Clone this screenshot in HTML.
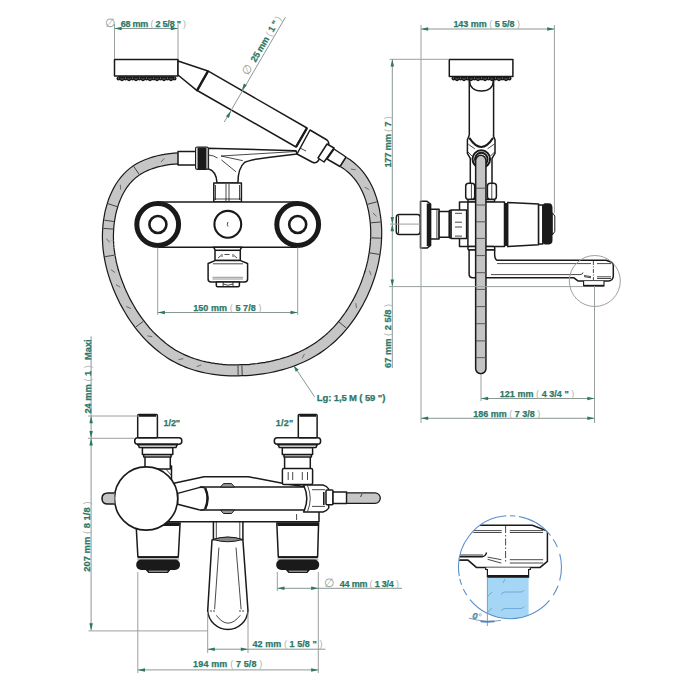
<!DOCTYPE html>
<html><head><meta charset="utf-8">
<style>
html,body{margin:0;padding:0;background:#fff;width:700px;height:700px;overflow:hidden}
svg{display:block}
text{font-family:"Liberation Sans",sans-serif;font-weight:bold;fill:#2b7866;font-size:9px;stroke:#2b7866;stroke-width:0.25}
.p{fill:#a5b2ae;font-weight:normal;stroke:none}
.k{fill:none;stroke:#1a1a1a;stroke-width:1.5;stroke-linejoin:round}
.kw{fill:#fff;stroke:#1a1a1a;stroke-width:1.5;stroke-linejoin:round}
.kt{fill:none;stroke:#1a1a1a;stroke-width:0.8}
.ext{fill:none;stroke:#9aa09e;stroke-width:1}
.dim{fill:none;stroke:#8c9794;stroke-width:1}
.ar{fill:#2b7866}
.hb{fill:none;stroke:#1a1a1a;stroke-width:12.2}
.hg{fill:none;stroke:#c6c6c6;stroke-width:9.8}
</style></head><body>
<svg width="700" height="700" viewBox="0 0 700 700">
<!-- ===== TOP FRONT VIEW ===== -->
<!-- hose -->
<path class="hb" d="M178.1,158.3 L174.4,158.6 L170.5,159.0 L166.6,159.5 L162.7,160.2 L158.7,161.1 L154.7,162.1 L150.8,163.4 L147.0,164.8 L143.3,166.4 L139.7,168.3 L136.4,170.4 L133.2,172.7 L130.3,175.2 L127.6,177.9 L125.0,180.8 L122.7,183.9 L120.5,187.2 L118.6,190.5 L116.8,194.0 L115.2,197.7 L113.7,201.4 L112.5,205.2 L111.4,209.0 L110.4,212.9 L109.7,216.9 L109.0,220.8 L108.5,224.8 L108.2,228.8 L108.0,232.7 L107.9,236.6 L108.0,240.5 L108.2,244.4 L108.5,248.3 L109.0,252.1 L109.6,256.0 L110.3,259.8 L111.1,263.6 L112.0,267.3 L113.0,271.1 L114.1,274.8 L115.3,278.5 L116.7,282.2 L118.1,285.9 L119.6,289.6 L121.2,293.3 L122.9,296.9 L124.6,300.5 L126.5,304.0 L128.5,307.5 L130.5,311.0 L132.6,314.4 L134.8,317.7 L137.1,321.0 L139.5,324.2 L142.0,327.3 L144.5,330.4 L147.1,333.4 L149.8,336.3 L152.6,339.0 L155.5,341.7 L158.4,344.3 L161.4,346.8 L164.5,349.2 L167.6,351.4 L170.8,353.6 L174.1,355.6 L177.5,357.4 L180.9,359.2 L184.4,360.7 L188.0,362.2 L191.6,363.5 L195.3,364.7 L199.0,365.8 L202.8,366.8 L206.6,367.6 L210.4,368.3 L214.3,368.9 L218.2,369.4 L222.1,369.8 L226.1,370.1 L230.1,370.3 L234.0,370.3 L238.0,370.3 L242.0,370.2 L246.0,370.1 L250.0,369.8 L254.0,369.4 L258.0,369.0 L261.9,368.4 L265.9,367.8 L269.8,367.1 L273.7,366.2 L277.5,365.3 L281.4,364.3 L285.1,363.2 L288.9,362.0 L292.6,360.7 L296.2,359.2 L299.8,357.7 L303.4,356.1 L306.8,354.3 L310.3,352.5 L313.6,350.5 L316.9,348.5 L320.1,346.3 L323.2,344.0 L326.2,341.6 L329.2,339.1 L332.1,336.5 L334.8,333.8 L337.6,331.0 L340.2,328.1 L342.7,325.1 L345.2,322.0 L347.5,318.9 L349.8,315.7 L352.0,312.4 L354.1,309.0 L356.1,305.6 L358.1,302.2 L359.9,298.6 L361.7,295.1 L363.3,291.5 L364.9,287.8 L366.4,284.1 L367.7,280.4 L369.0,276.7 L370.2,272.9 L371.3,269.1 L372.3,265.2 L373.2,261.4 L373.9,257.5 L374.6,253.6 L375.1,249.8 L375.6,245.9 L375.9,241.9 L376.1,238.0 L376.2,234.1 L376.2,230.2 L376.0,226.3 L375.7,222.4 L375.3,218.5 L374.7,214.6 L374.1,210.7 L373.2,206.9 L372.3,203.1 L371.2,199.3 L369.9,195.6 L368.5,191.9 L366.9,188.4 L365.1,184.9 L363.1,181.5 L361.0,178.3 L358.6,175.2 L356.0,172.2 L353.2,169.4 L350.2,166.8 L347.0,164.3 L343.5,162.1"/>
<path class="hg" d="M178.1,158.3 L174.4,158.6 L170.5,159.0 L166.6,159.5 L162.7,160.2 L158.7,161.1 L154.7,162.1 L150.8,163.4 L147.0,164.8 L143.3,166.4 L139.7,168.3 L136.4,170.4 L133.2,172.7 L130.3,175.2 L127.6,177.9 L125.0,180.8 L122.7,183.9 L120.5,187.2 L118.6,190.5 L116.8,194.0 L115.2,197.7 L113.7,201.4 L112.5,205.2 L111.4,209.0 L110.4,212.9 L109.7,216.9 L109.0,220.8 L108.5,224.8 L108.2,228.8 L108.0,232.7 L107.9,236.6 L108.0,240.5 L108.2,244.4 L108.5,248.3 L109.0,252.1 L109.6,256.0 L110.3,259.8 L111.1,263.6 L112.0,267.3 L113.0,271.1 L114.1,274.8 L115.3,278.5 L116.7,282.2 L118.1,285.9 L119.6,289.6 L121.2,293.3 L122.9,296.9 L124.6,300.5 L126.5,304.0 L128.5,307.5 L130.5,311.0 L132.6,314.4 L134.8,317.7 L137.1,321.0 L139.5,324.2 L142.0,327.3 L144.5,330.4 L147.1,333.4 L149.8,336.3 L152.6,339.0 L155.5,341.7 L158.4,344.3 L161.4,346.8 L164.5,349.2 L167.6,351.4 L170.8,353.6 L174.1,355.6 L177.5,357.4 L180.9,359.2 L184.4,360.7 L188.0,362.2 L191.6,363.5 L195.3,364.7 L199.0,365.8 L202.8,366.8 L206.6,367.6 L210.4,368.3 L214.3,368.9 L218.2,369.4 L222.1,369.8 L226.1,370.1 L230.1,370.3 L234.0,370.3 L238.0,370.3 L242.0,370.2 L246.0,370.1 L250.0,369.8 L254.0,369.4 L258.0,369.0 L261.9,368.4 L265.9,367.8 L269.8,367.1 L273.7,366.2 L277.5,365.3 L281.4,364.3 L285.1,363.2 L288.9,362.0 L292.6,360.7 L296.2,359.2 L299.8,357.7 L303.4,356.1 L306.8,354.3 L310.3,352.5 L313.6,350.5 L316.9,348.5 L320.1,346.3 L323.2,344.0 L326.2,341.6 L329.2,339.1 L332.1,336.5 L334.8,333.8 L337.6,331.0 L340.2,328.1 L342.7,325.1 L345.2,322.0 L347.5,318.9 L349.8,315.7 L352.0,312.4 L354.1,309.0 L356.1,305.6 L358.1,302.2 L359.9,298.6 L361.7,295.1 L363.3,291.5 L364.9,287.8 L366.4,284.1 L367.7,280.4 L369.0,276.7 L370.2,272.9 L371.3,269.1 L372.3,265.2 L373.2,261.4 L373.9,257.5 L374.6,253.6 L375.1,249.8 L375.6,245.9 L375.9,241.9 L376.1,238.0 L376.2,234.1 L376.2,230.2 L376.0,226.3 L375.7,222.4 L375.3,218.5 L374.7,214.6 L374.1,210.7 L373.2,206.9 L372.3,203.1 L371.2,199.3 L369.9,195.6 L368.5,191.9 L366.9,188.4 L365.1,184.9 L363.1,181.5 L361.0,178.3 L358.6,175.2 L356.0,172.2 L353.2,169.4 L350.2,166.8 L347.0,164.3 L343.5,162.1"/>

<path d="M104.8,256.7 L114.3,255.2 M135.7,327.1 L143.3,321.3 M238.1,375.1 L238.0,365.5 M242.2,375.0 L241.9,365.4 M346.4,328.1 L339.0,322.0 M379.3,254.4 L369.9,252.9 M376.9,201.8 L367.6,204.3 M380.5,222.0 L370.9,222.8 M380.9,238.2 L371.3,237.9 M133.7,166.4 L139.1,174.3 M107.9,203.7 L117.1,206.6 M104.3,220.2 L113.8,221.5 M103.4,228.4 L113.0,229.1" stroke="#333" stroke-width="0.9"/>
<path d="M111.0,269.6 L115.0,272.6 M115.9,284.6 L120.2,287.2 M126.2,306.5 L130.8,308.5 M147.4,335.9 L152.3,336.6 M178.5,359.6 L183.4,358.7 M196.7,366.7 L201.3,364.9 M302.2,358.3 L304.5,353.9 M356.5,308.1 L355.8,303.1 M371.1,275.2 L369.4,270.5 M355.7,169.7 L350.8,169.1 M369.1,189.5 L364.6,187.2 M376.5,216.3 L372.9,212.9 M164.3,158.4 L161.0,162.1 M120.3,184.7 L120.7,189.7 M106.4,238.6 L109.6,242.5" stroke="#555" stroke-width="0.8"/>
<!-- shower head -->
<rect class="kw" x="114.5" y="59.5" width="63.5" height="16.5"/>
<path d="M118.5,76.3 H174.5 V78.1 H118.5 Z" fill="#1a1a1a"/><circle cx="118.5" cy="78.4" r="2.0" fill="#1a1a1a"/><circle cx="122.0" cy="79.2" r="2.0" fill="#1a1a1a"/><circle cx="125.5" cy="78.4" r="2.0" fill="#1a1a1a"/><circle cx="129.0" cy="79.2" r="2.0" fill="#1a1a1a"/><circle cx="132.5" cy="78.4" r="2.0" fill="#1a1a1a"/><circle cx="136.0" cy="79.2" r="2.0" fill="#1a1a1a"/><circle cx="139.5" cy="78.4" r="2.0" fill="#1a1a1a"/><circle cx="143.0" cy="79.2" r="2.0" fill="#1a1a1a"/><circle cx="146.5" cy="78.4" r="2.0" fill="#1a1a1a"/><circle cx="150.0" cy="79.2" r="2.0" fill="#1a1a1a"/><circle cx="153.5" cy="78.4" r="2.0" fill="#1a1a1a"/><circle cx="157.0" cy="79.2" r="2.0" fill="#1a1a1a"/><circle cx="160.5" cy="78.4" r="2.0" fill="#1a1a1a"/><circle cx="164.0" cy="79.2" r="2.0" fill="#1a1a1a"/><circle cx="167.5" cy="78.4" r="2.0" fill="#1a1a1a"/><circle cx="171.0" cy="79.2" r="2.0" fill="#1a1a1a"/><circle cx="174.5" cy="78.4" r="2.0" fill="#1a1a1a"/><circle cx="118.5" cy="78.1" r="0.55" fill="#999"/><circle cx="122.0" cy="78.9" r="0.55" fill="#999"/><circle cx="125.5" cy="78.1" r="0.55" fill="#999"/><circle cx="129.0" cy="78.9" r="0.55" fill="#999"/><circle cx="132.5" cy="78.1" r="0.55" fill="#999"/><circle cx="136.0" cy="78.9" r="0.55" fill="#999"/><circle cx="139.5" cy="78.1" r="0.55" fill="#999"/><circle cx="143.0" cy="78.9" r="0.55" fill="#999"/><circle cx="146.5" cy="78.1" r="0.55" fill="#999"/><circle cx="150.0" cy="78.9" r="0.55" fill="#999"/><circle cx="153.5" cy="78.1" r="0.55" fill="#999"/><circle cx="157.0" cy="78.9" r="0.55" fill="#999"/><circle cx="160.5" cy="78.1" r="0.55" fill="#999"/><circle cx="164.0" cy="78.9" r="0.55" fill="#999"/><circle cx="167.5" cy="78.1" r="0.55" fill="#999"/><circle cx="171.0" cy="78.9" r="0.55" fill="#999"/><circle cx="174.5" cy="78.1" r="0.55" fill="#999"/>
<!-- handle cone -->
<path class="kw" d="M178,61 L208,71 L197,90.7 L178,75 Z"/>
<!-- handle tube -->
<path class="kw" d="M208.3,71.2 L307,128 L296,147 L197.2,90.5 Z"/>
<path d="M208,71 L197,90.7" stroke="#1a1a1a" stroke-width="2.4"/>
<path d="M307,128 L296,147" stroke="#1a1a1a" stroke-width="2.4"/>
<!-- collar -->
<path class="kw" d="M310,130 L327,140 Q330,143 328,146 L318,161 Q316,164 312,162 L297,154 Z"/>
<path d="M300,148 L306,151" class="kt"/>
<!-- hex nut -->
<path class="kw" d="M327,144 L334,148 L324,162 L318,158 Z"/>
<!-- small tube -->
<path class="kw" d="M334,149 L346,157 L340,166.5 L327,159 Z"/>

<!-- holder -->
<path class="kw" d="M207,148.3 L296,150.7 L297,154 L270,157.2 Q250,159.5 244.5,162.5 Q238,168 237.9,183 L217,183 Q216.5,171 208,168.8 L207,168.8 Z"/>
<path class="kt" d="M209,155.1 Q214,155.5 217.6,158.1" stroke-width="1.2"/>
<path class="kt" d="M221,156 L296,151.5 M221,156 L242.8,160.7"/>
<path class="kt" d="M221.4,159.9 L236,171.8"/>
<path d="M208.6,148.5 V168.5" stroke="#1a1a1a" stroke-width="1"/>
<!-- tube + black ring -->
<rect class="kw" x="178" y="151.5" width="18" height="13.5"/>
<rect x="195.6" y="147" width="12.6" height="22.3" rx="1.5" fill="#fff" stroke="#1a1a1a" stroke-width="1.2"/>
<rect x="197.5" y="147.3" width="9" height="21.7" fill="#1a1a1a"/>
<!-- nut on holder -->
<rect class="kw" x="213.8" y="183" width="27.6" height="19"/>
<path class="kt" d="M226,184 v17 M229,184 v17 M215.5,185 v15 M239.5,185 v15 M214,199 h27"/>

<!-- body bar -->
<path class="kw" d="M157.7,202.1 L297.7,202.1 L297.7,247.3 L157.7,247.3 Z"/>
<!-- knobs -->
<circle cx="157.7" cy="224.5" r="20.9" fill="#fff" stroke="#1a1a1a" stroke-width="5"/>
<circle cx="157.9" cy="224.5" r="8.5" fill="#fff" stroke="#1a1a1a" stroke-width="2.6"/>
<circle cx="297.7" cy="224.5" r="20.9" fill="#fff" stroke="#1a1a1a" stroke-width="5"/>
<circle cx="297.7" cy="224.5" r="8.5" fill="#fff" stroke="#1a1a1a" stroke-width="2.6"/>
<circle cx="227.8" cy="224.3" r="13.4" fill="#fff" stroke="#1a1a1a" stroke-width="2.1"/>
<path d="M228,222 Q226.5,224.4 228,226.5" class="kt"/>
<!-- lower fitting -->
<path class="kw" d="M213.3,247.3 Q215,249 215,250.3 V260.6 H240.3 V250.3 Q240.3,249 242,247.3 Z"/>
<path class="k" d="M215,250.3 H240.3"/>
<path class="kt" d="M218,258 l3,-2.5 M222,257 v-3 M224.5,254.5 h5 M233,257 v-3 M234,255.5 l3,2.5"/>
<path class="kw" d="M215,260.6 H240.5 L247.6,263.5 V279 Q247.6,282 244.6,282 H211.1 Q208.1,282 208.1,279 V263.5 Z"/>
<path class="kt" d="M212.9,263.8 H243"/>
<path d="M212.5,277.3 H243 M212.5,279 H243" stroke="#777" stroke-width="0.8"/>
<path class="kw" d="M216.3,282 H239.4 V285.5 Q239.4,286.7 238,286.7 H217.7 Q216.3,286.7 216.3,285.5 Z"/>
<path class="kt" d="M223.1,282 V286.5 M233,282 V286.5"/>
<path class="kt" d="M223.1,284 Q228,286.5 233,284"/>

<!-- ===== RIGHT SIDE VIEW ===== -->
<!-- shower head -->
<rect class="kw" x="449.3" y="59.5" width="63.6" height="16.9"/>
<path d="M453.5,76.3 H509.5 V78.1 H453.5 Z" fill="#1a1a1a"/><circle cx="453.5" cy="78.4" r="2.0" fill="#1a1a1a"/><circle cx="457.0" cy="79.2" r="2.0" fill="#1a1a1a"/><circle cx="460.5" cy="78.4" r="2.0" fill="#1a1a1a"/><circle cx="464.0" cy="79.2" r="2.0" fill="#1a1a1a"/><circle cx="467.5" cy="78.4" r="2.0" fill="#1a1a1a"/><circle cx="471.0" cy="79.2" r="2.0" fill="#1a1a1a"/><circle cx="474.5" cy="78.4" r="2.0" fill="#1a1a1a"/><circle cx="478.0" cy="79.2" r="2.0" fill="#1a1a1a"/><circle cx="481.5" cy="78.4" r="2.0" fill="#1a1a1a"/><circle cx="485.0" cy="79.2" r="2.0" fill="#1a1a1a"/><circle cx="488.5" cy="78.4" r="2.0" fill="#1a1a1a"/><circle cx="492.0" cy="79.2" r="2.0" fill="#1a1a1a"/><circle cx="495.5" cy="78.4" r="2.0" fill="#1a1a1a"/><circle cx="499.0" cy="79.2" r="2.0" fill="#1a1a1a"/><circle cx="502.5" cy="78.4" r="2.0" fill="#1a1a1a"/><circle cx="506.0" cy="79.2" r="2.0" fill="#1a1a1a"/><circle cx="509.5" cy="78.4" r="2.0" fill="#1a1a1a"/><circle cx="453.5" cy="78.1" r="0.55" fill="#999"/><circle cx="457.0" cy="78.9" r="0.55" fill="#999"/><circle cx="460.5" cy="78.1" r="0.55" fill="#999"/><circle cx="464.0" cy="78.9" r="0.55" fill="#999"/><circle cx="467.5" cy="78.1" r="0.55" fill="#999"/><circle cx="471.0" cy="78.9" r="0.55" fill="#999"/><circle cx="474.5" cy="78.1" r="0.55" fill="#999"/><circle cx="478.0" cy="78.9" r="0.55" fill="#999"/><circle cx="481.5" cy="78.1" r="0.55" fill="#999"/><circle cx="485.0" cy="78.9" r="0.55" fill="#999"/><circle cx="488.5" cy="78.1" r="0.55" fill="#999"/><circle cx="492.0" cy="78.9" r="0.55" fill="#999"/><circle cx="495.5" cy="78.1" r="0.55" fill="#999"/><circle cx="499.0" cy="78.9" r="0.55" fill="#999"/><circle cx="502.5" cy="78.1" r="0.55" fill="#999"/><circle cx="506.0" cy="78.9" r="0.55" fill="#999"/><circle cx="509.5" cy="78.1" r="0.55" fill="#999"/>
<!-- vertical handle -->
<path class="kw" d="M469.3,76.5 V136 M493.6,76.5 V136"/>
<path class="k" d="M469.3,80 Q470,91 481.5,91 Q493,91 493.6,80"/>
<!-- joint -->
<path d="M469.3,135.3 L467.4,139.8 V153.3 L470.3,158.4 V184 H492 V158.4 L495,153.3 V139.8 L493.1,135.3 Z" fill="#fff" stroke="none"/>
<path class="k" d="M469.3,135.3 L467.4,139.8 V153.3 L470.3,158.4 V184 M493.1,135.3 L495,139.8 V153.3 L492,158.4 V184"/>
<path d="M469.3,137.9 Q481.3,156 493.1,137.9" fill="none" stroke="#1a1a1a" stroke-width="2"/>
<path class="kt" d="M468.4,144.3 L474.8,148.8 M494,144.3 L487.6,148.8 M468,152 L472,156 M494.5,152 L490.5,156"/>
<circle cx="481.3" cy="159.1" r="8.8" fill="#fff" stroke="#1a1a1a" stroke-width="2"/>
<circle cx="481.3" cy="159.1" r="6.3" fill="#fff" stroke="#1a1a1a" stroke-width="2"/>
<!-- nut -->
<rect class="kw" x="465.7" y="183.2" width="9" height="16.4" rx="3"/>
<rect class="kw" x="487.4" y="183.2" width="9" height="16.4" rx="3"/>
<path class="kt" d="M471.4,184 v15 M491.8,184 v15"/>
<rect class="kw" x="467.9" y="199.6" width="26.7" height="2.5" rx="1"/>
<!-- body -->
<rect class="kw" x="459.5" y="202.1" width="45" height="44.5"/>
<path class="k" d="M467.9,202.1 V246.6"/>
<!-- inlet connector -->
<rect class="kw" x="396.3" y="214.4" width="24" height="20" rx="3"/>
<path d="M398.6,215.5 V233.5" stroke="#1a1a1a" stroke-width="1"/>
<path class="kw" d="M420.5,201.3 H427 L430.6,204 V245.4 L427,248.1 H420.5 Z"/>
<path d="M428.5,203.5 V246" stroke="#1a1a1a" stroke-width="3.5"/>
<rect class="kw" x="430.6" y="209.3" width="8.5" height="29.7"/>
<path class="kt" d="M436.9,209.5 V238.8"/>
<rect class="kw" x="439.1" y="211.6" width="10.3" height="25.7"/>
<rect class="kw" x="449.4" y="210.5" width="1.8" height="27.3"/>
<rect class="kw" x="451.1" y="209.9" width="15.5" height="28.5"/>
<path class="kt" d="M455,213.3 h7 M455,222.2 h7 M455,227 h7 M455,236.1 h7"/>
<!-- cartridge -->
<path class="kw" d="M507.7,202.4 L538.6,204.1 L538.6,244.8 L507.7,246.6 Z"/>
<path d="M506,203 V246" stroke="#1a1a1a" stroke-width="3"/>
<rect class="kw" x="538.6" y="205" width="4.2" height="39"/>
<path d="M545,203.3 H549 Q552.5,203.3 552.5,208 V240 Q552.5,244.4 549,244.4 H545 Q542.5,244.4 542.5,240 V208 Q542.5,203.3 545,203.3 Z" fill="#1a1a1a"/>
<path d="M552.3,212.7 L554.8,216 V231.5 L552.3,235 Z" fill="#fff" stroke="#1a1a1a" stroke-width="1"/>
<!-- lip + leg + spout -->
<rect class="kw" x="467.9" y="246.6" width="26.9" height="3.4" rx="1.5"/>
<path class="kw" d="M469.1,250 V274 Q469.1,277.8 473,277.8 H574 L578.2,281.1 H608.5 Q610.5,281 612,279.5 Q613.3,278 613.3,276 V265 Q613.3,263 611,262 L606,260.3 H497 Q494,259 494.8,250 Z"/>
<path class="kt" d="M497,263.6 H591 M597,263.6 H611"/>
<path class="kt" d="M491,274.6 H580 Q583,274.5 583,272.5"/>
<path class="kt" d="M584,275.5 L591,276.6 M584,276.6 L591,277.8 M597,276.8 H611 M597,278.5 H611"/>
<path d="M583.6,281.1 V285.9 H604 V281.1" fill="#fff" stroke="#1a1a1a" stroke-width="1.1"/>
<path d="M583.6,285.6 H604" stroke="#1a1a1a" stroke-width="1.6"/>
<path class="kt" d="M593.4,261 V280" stroke-dasharray="4,1.5,1,1.5"/>
<!-- vertical hose -->
<path d="M480.8,160.5 V368.5" stroke="#1a1a1a" stroke-width="11.8" stroke-linecap="round"/>
<path d="M480.8,160.5 V368.5" stroke="#c4c4c4" stroke-width="8.8" stroke-linecap="round"/>
<path d="M476,188.2 h10 M476,205 h10 M476,221.8 h10 M476,238.4 h10 M476,255.6 h10 M476,272.7 h10 M476,289.4 h10 M476,306.6 h10 M476,323.7 h10 M476,340.9 h10 M476,357.7 h10" stroke="#555" stroke-width="1"/>
<!-- detail circle -->
<circle cx="594.8" cy="281" r="25.5" fill="none" stroke="#a0a0a0" stroke-width="1"/>

<!-- ===== BOTTOM FRONT VIEW ===== -->
<!-- body (behind) -->
<path class="kw" d="M170,484.2 L175,483.1 L204.1,476.7 L248.4,476.7 L285,483.8 L301.7,486.3 L319,486.3 L319,521.7 L168,521.7 Z"/>
<!-- inlet fittings -->
<g id="inL">
<path class="kw" d="M148,466 H171.5 V483 H148 Z"/>
<path class="kt" d="M165,468 L171,475"/>
<rect class="kw" x="145" y="455" width="25.3" height="14"/>
<rect class="kw" x="143.7" y="454.6" width="27.4" height="2.4"/>
<rect class="kw" x="142.4" y="447.5" width="30.4" height="7.1"/>
<path class="kw" d="M137.7,443 H177.6 L176,447.5 H139.3 Z"/>
<rect class="kw" x="134.7" y="437.8" width="47.1" height="6.5" rx="3"/>
<path d="M137,444.5 H178" stroke="#1a1a1a" stroke-width="2.2"/>
<rect class="kw" x="137.7" y="414.5" width="19.7" height="23.3" rx="1"/>
<path d="M139,415.5 H156" stroke="#1a1a1a" stroke-width="2.5"/>
</g>
<g id="inR">
<rect class="kw" x="284.6" y="455" width="25.7" height="14"/>
<rect class="kw" x="284" y="454.6" width="27.4" height="2.4"/>
<rect class="kw" x="282.3" y="447.5" width="30.3" height="7.1"/>
<path class="kw" d="M277.7,443 H317.7 L316,447.5 H279.3 Z"/>
<rect class="kw" x="274.3" y="437.8" width="46.3" height="6.5" rx="3"/>
<path d="M277,444.5 H318" stroke="#1a1a1a" stroke-width="2.2"/>
<rect class="kw" x="298.3" y="414.5" width="18.8" height="23.3" rx="1"/>
<path d="M299.5,415.5 H316" stroke="#1a1a1a" stroke-width="2.5"/>
<!-- nut -->
<rect class="kw" x="282.4" y="468.4" width="30.2" height="16" rx="1.5"/>
<path class="kt" d="M288.2,472 v8 M292.7,472 v8 M302.3,472 v8 M307.5,472 v8"/>
</g>
<!-- handle tube -->
<rect x="200" y="487" width="104" height="23.1" fill="#fff"/>
<path class="k" d="M200,487 H304 M200,510.1 H304"/>
<path d="M220.5,487 L223.5,483.6 H231.5 L234.5,487 Z M220.5,510.1 L223.5,513.5 H231.5 L234.5,510.1 Z" fill="#999" stroke="#1a1a1a" stroke-width="1"/>
<!-- handle cone -->
<path class="kw" d="M177.7,493.4 L199,487.6 Q203,486.8 205.5,488.5 Q210,498.5 205.5,508.6 Q203,510.4 199,509.8 L177.7,504.3 Z"/>
<path d="M205.3,488.6 Q209.8,498.5 205.3,508.4" fill="none" stroke="#1a1a1a" stroke-width="2.4"/>
<!-- collar + hex -->
<path class="kw" d="M303.6,485 L323,485 Q327,486 328.7,489 L328.7,508 Q327,511 323,512 L303.6,512 Q310,498.5 303.6,485 Z"/>
<path class="kt" d="M307.5,485.5 Q313,498.5 307.5,511.5 M312,489.7 H325 M312,506.4 H325"/><path d="M323.8,492 V505" stroke="#1a1a1a" stroke-width="1.6"/>
<rect class="kw" x="326" y="489.9" width="7" height="14.9" rx="1"/>
<rect class="kw" x="333" y="492" width="13.6" height="11.4"/>
<path d="M346.6,492.8 H375 A5.3,5.3 0 0 1 375,503.4 H346.6 Z" fill="#c6c6c6" stroke="#1a1a1a" stroke-width="1.3"/>
<path class="kt" d="M362,494 l-1.5,3"/>
<path class="kt" d="M296.6,514 v6"/>
<!-- lower cartridges -->
<path class="kw" d="M136,522.9 L180.1,522.9 L178.3,557 L137.9,557 Z"/>
<path d="M137,524.5 H179.7" stroke="#1a1a1a" stroke-width="3"/>
<path d="M138,557.3 H178.3" stroke="#1a1a1a" stroke-width="2"/>
<rect x="137" y="558.3" width="42.2" height="2" fill="#bbb"/>
<rect x="136.2" y="559.6" width="43.8" height="10.4" rx="5" fill="#1a1a1a"/>
<path class="kw" d="M146.7,570 H169.5 L167.5,572.2 H148.7 Z"/>
<path class="kw" d="M276.8,522.9 L318.6,522.9 L317.6,557 L278.3,557 Z"/>
<path d="M277.5,524.5 H318.3" stroke="#1a1a1a" stroke-width="3"/>
<path d="M278.3,557.3 H317.6" stroke="#1a1a1a" stroke-width="2"/>
<rect x="277.3" y="558.3" width="41" height="2" fill="#bbb"/>
<rect x="276.2" y="559.6" width="43" height="10.4" rx="5" fill="#1a1a1a"/>
<path class="kw" d="M286.8,570 H309 L307,572.2 H288.8 Z"/>
<!-- big knob -->
<circle cx="146.1" cy="498.5" r="31.6" fill="#fff" stroke="#1a1a1a" stroke-width="1.6"/>
<path d="M114.5,492.9 H108 Q102,492.9 102,498.5 Q102,504.1 108,504.1 H114.5" fill="#c4c4c4" stroke="#1a1a1a" stroke-width="1.5"/>
<!-- spout -->
<path class="kw" d="M213.4,521.7 V540 M242.9,521.7 V540"/>
<path class="kt" d="M216.3,521.7 V539 M239.8,521.7 V539"/>
<path class="kw" d="M212,540 Q227.8,535 242.9,540 L248,610.7 A20.2,20.2 0 0 1 207.7,610.7 Z"/>
<path d="M213,539.5 Q227.8,534.5 242.5,539.5 Q227.8,544 213,539.5 Z" fill="#888" stroke="#1a1a1a" stroke-width="1"/>
<path class="kt" d="M218.9,547.6 L214.6,609.3 M236,547.6 L241.1,609.3"/>
<path class="kt" d="M216.3,615.3 Q227.8,631 240.3,615.3"/>
<path class="kt" d="M210,611 h6 M239,611 h6" stroke-dasharray="2,1"/>
<!-- ===== DETAIL ===== -->
<defs><clipPath id="dc"><circle cx="510" cy="567.2" r="51.5"/></clipPath></defs>
<g clip-path="url(#dc)">
<rect x="487.4" y="577" width="41.2" height="50" fill="#a6d6f6"/>
<path d="M501,594.3 Q503,592 505,592 H521 Q523,592 524,590 M501,611 Q503,608.5 505,608.5 H521 Q523,608.5 524,606.5 M488,596 l4,-4 M488,612 l4,-4 M503,583 l2,-4" fill="none" stroke="#6aa6d6" stroke-width="0.9"/>
<path d="M440,555 H483 Q487,555 486,552 M440,556.8 H482 Q484,557.2 482,558 Q474,559.5 469,560.1 H440" fill="none" stroke="#1a1a1a" stroke-width="1.1"/>
<path d="M440,560.1 H467.9 L476.4,567.4 H540.1 L547.4,561.4 V531 L532.4,525.3 H440" fill="#fff" stroke="#1a1a1a" stroke-width="1.5"/>
<path d="M440,556.8 H482 Q486,556 486.5,552.5" fill="none" stroke="#1a1a1a" stroke-width="1.5"/>
<path d="M440,555 H483" fill="none" stroke="#1a1a1a" stroke-width="0.9"/>
</g>
<path d="M473.4,530.6 H501.7 M473.4,532.5 H501.7 M509.8,530.6 H543.1 M509.8,532.5 H543.1" stroke="#1a1a1a" stroke-width="0.8"/>
<path d="M509.8,559.7 H543.1 M509.8,563 H543.1 M487.6,557.1 L501.3,559.7 M487.6,559.3 L501.3,563.1" stroke="#1a1a1a" stroke-width="0.8"/>
<path d="M505.6,526 V562" stroke="#1a1a1a" stroke-width="0.8" stroke-dasharray="7,2,1.5,2"/>
<path d="M485.7,567.4 V569.5 H487.4 V577.1 H528.6 V569.5 H530.3 V567.4" fill="#fff" stroke="#1a1a1a" stroke-width="1.2"/>
<path d="M487.8,576 H528.2" stroke="#1a1a1a" stroke-width="2"/>
<path d="M459.3,576.1 A51.5,51.5 0 0 1 506.4,515.8 M510.0,515.7 A51.5,51.5 0 0 1 515.4,516.0 M518.9,516.5 A51.5,51.5 0 0 1 550.6,535.5 M553.2,539.2 A51.5,51.5 0 0 1 557.4,547.1 M559.7,553.9 A51.5,51.5 0 0 1 559.7,580.5 M558.1,585.7 A51.5,51.5 0 0 1 553.2,595.2 M549.5,600.3 A51.5,51.5 0 0 1 470.0,599.6 M466.8,595.2 A51.5,51.5 0 0 1 463.3,589.0 M461.6,584.8 A51.5,51.5 0 0 1 459.8,578.8 M459.0,574.4 A51.5,51.5 0 0 1 458.6,570.8" fill="none" stroke="#5d90c8" stroke-width="1.1"/>
<path d="M487.4,577 V626" stroke="#6f98c0" stroke-width="0.9"/>
<path d="M469,618.2 Q486,623 501,620.4" fill="none" stroke="#7c8fa0" stroke-width="0.9"/>
<path d="M480.5,621.3 L487,621.8 L494.5,621.3" fill="none" stroke="#4f86c0" stroke-width="1.8"/>
<text x="472.2" y="619" style="font-size:9.6px;font-style:italic;font-weight:bold;fill:#5f8fc6">0</text><circle cx="480.2" cy="614.8" r="1.2" fill="none" stroke="#7aa6d6" stroke-width="0.7"/>

<path class="ext" d="M114.5,24 V59 M178,24 V59"/><path class="dim" d="M114.5,28.5 H178"/><path class="ar" d="M114.50,28.50 L121.70,26.75 L121.70,30.25 Z"/>
<path class="ar" d="M178.00,28.50 L170.80,30.25 L170.80,26.75 Z"/>
<text x="104.8" y="26.6" textLength="81.3" lengthAdjust="spacing" style="font-size:9px;" xml:space="preserve"><tspan class="p" style="font-size:11.7px;fill:#8d9894">∅  </tspan><tspan>68 mm</tspan><tspan class="p"> ( </tspan><tspan>2 5/8</tspan><tspan class="p"> </tspan><tspan>"</tspan><tspan class="p"> )</tspan></text>
<path class="dim" d="M224.3,122 L285.5,17"/><path class="ar" d="M241.80,90.40 L243.82,83.47 L246.84,85.24 Z"/>
<path class="ar" d="M231.00,111.00 L228.98,117.93 L225.96,116.16 Z"/>
<text x="0" y="0" transform="translate(247.6,76.3) rotate(-59.7)" textLength="67" lengthAdjust="spacing" style="font-size:9px;" xml:space="preserve"><tspan class="p" style="font-size:11.7px;fill:#8d9894">∅  </tspan><tspan>25 mm</tspan><tspan class="p"> ( </tspan><tspan>1</tspan><tspan class="p"> </tspan><tspan>"</tspan><tspan class="p"> )</tspan></text>
<path class="ext" d="M157.7,247.5 V315 M297.7,247.5 V315"/><path class="dim" d="M157.7,312.5 H297.7"/><path class="ar" d="M157.70,312.50 L164.90,310.75 L164.90,314.25 Z"/>
<path class="ar" d="M297.70,312.50 L290.50,314.25 L290.50,310.75 Z"/>
<text x="193.2" y="310.5" textLength="68.2" lengthAdjust="spacing" style="font-size:9px;" xml:space="preserve"><tspan>150 mm</tspan><tspan class="p"> ( </tspan><tspan>5 7/8</tspan><tspan class="p"> )</tspan></text>
<path class="dim" d="M293.6,365.4 L314.6,396.8"/><path class="ar" d="M293.60,365.40 L298.67,369.83 L295.76,371.78 Z"/>
<text x="316.8" y="401.1" textLength="68.5" lengthAdjust="spacing" style="font-size:9.5px;" xml:space="preserve"><tspan>Lg: 1,5 M ( 59 ")</tspan></text>
<path class="ext" d="M421,25 V423 M554.4,25 V213"/><path class="dim" d="M421,29 H554.4"/><path class="ar" d="M421.00,29.00 L428.20,27.25 L428.20,30.75 Z"/>
<path class="ar" d="M554.40,29.00 L547.20,30.75 L547.20,27.25 Z"/>
<text x="453.4" y="27.1" textLength="66.6" lengthAdjust="spacing" style="font-size:9px;" xml:space="preserve"><tspan>143 mm</tspan><tspan class="p"> ( </tspan><tspan>5 5/8</tspan><tspan class="p"> )</tspan></text>
<path class="ext" d="M389.5,59.3 H449"/><path class="dim" d="M392.3,59.3 V368"/><path class="ar" d="M392.30,59.30 L394.05,66.50 L390.55,66.50 Z"/>
<path class="ar" d="M392.30,224.10 L390.55,216.90 L394.05,216.90 Z"/>
<path class="ar" d="M392.30,224.10 L394.05,231.30 L390.55,231.30 Z"/>
<path class="ar" d="M392.30,286.60 L390.55,279.40 L394.05,279.40 Z"/>
<path class="ext" d="M390,224.1 H420 M389,286.6 H583"/><text x="0" y="0" transform="translate(391,167.6) rotate(-90)" textLength="51.4" lengthAdjust="spacing" style="font-size:9.3px;" xml:space="preserve"><tspan>177 mm</tspan><tspan class="p"> ( </tspan><tspan>7</tspan><tspan class="p"> )</tspan></text>
<text x="0" y="0" transform="translate(391,367.9) rotate(-90)" textLength="64" lengthAdjust="spacing" style="font-size:9.3px;" xml:space="preserve"><tspan>67 mm</tspan><tspan class="p"> ( </tspan><tspan>2 5/8</tspan><tspan class="p"> )</tspan></text>
<path class="ext" d="M481,375 V401 M594.5,286 V423"/><path class="dim" d="M481,398.5 H594.5 M421,418.3 H594.5"/><path class="ar" d="M481.00,398.50 L488.20,396.75 L488.20,400.25 Z"/>
<path class="ar" d="M594.50,398.50 L587.30,400.25 L587.30,396.75 Z"/>
<path class="ar" d="M421.00,418.30 L428.20,416.55 L428.20,420.05 Z"/>
<path class="ar" d="M594.50,418.30 L587.30,420.05 L587.30,416.55 Z"/>
<text x="499.7" y="397" textLength="74.6" lengthAdjust="spacing" style="font-size:9px;" xml:space="preserve"><tspan>121 mm</tspan><tspan class="p"> ( </tspan><tspan>4 3/4</tspan><tspan class="p"> </tspan><tspan>"</tspan><tspan class="p"> )</tspan></text>
<text x="473.3" y="416.6" textLength="67" lengthAdjust="spacing" style="font-size:9px;" xml:space="preserve"><tspan>186 mm</tspan><tspan class="p"> ( </tspan><tspan>7 3/8</tspan><tspan class="p"> )</tspan></text>
<path class="dim" d="M91.1,336.3 V630.5"/><path class="ext" d="M88,416 H138 M88,438.3 H134.5 M88.5,630.9 H208"/><path class="ar" d="M91.10,416.00 L92.85,423.20 L89.35,423.20 Z"/>
<path class="ar" d="M91.10,438.30 L89.35,431.10 L92.85,431.10 Z"/>
<path class="ar" d="M91.10,438.30 L92.85,445.50 L89.35,445.50 Z"/>
<path class="ar" d="M91.10,630.50 L89.35,623.30 L92.85,623.30 Z"/>
<text x="0" y="0" transform="translate(90.5,413.6) rotate(-90)" textLength="74.3" lengthAdjust="spacing" style="font-size:9.3px;" xml:space="preserve"><tspan>24 mm</tspan><tspan class="p"> ( </tspan><tspan>1</tspan><tspan class="p"> )  </tspan><tspan>Maxi</tspan></text>
<text x="0" y="0" transform="translate(90.4,571.8) rotate(-90)" textLength="70.3" lengthAdjust="spacing" style="font-size:9.3px;" xml:space="preserve"><tspan>207 mm</tspan><tspan class="p"> ( </tspan><tspan>8 1/8</tspan><tspan class="p"> )</tspan></text>
<text x="163.6" y="425.9" textLength="16.5" lengthAdjust="spacing" style="font-size:9px;" xml:space="preserve"><tspan>1/2"</tspan></text>
<text x="275.8" y="425.9" textLength="17.6" lengthAdjust="spacing" style="font-size:9px;" xml:space="preserve"><tspan>1/2"</tspan></text>
<path class="ext" d="M137.8,572 V673 M318.3,572 V673 M277.3,572 V591 M207.7,612 V653 M248,612 V653"/><path class="dim" d="M277.3,588.3 H402 M207.7,649.2 H325.4 M137.8,669.9 H318.3"/><path class="ar" d="M277.30,588.30 L284.50,586.55 L284.50,590.05 Z"/>
<path class="ar" d="M318.30,588.30 L311.10,590.05 L311.10,586.55 Z"/>
<path class="ar" d="M207.70,649.20 L214.90,647.45 L214.90,650.95 Z"/>
<path class="ar" d="M248.00,649.20 L240.80,650.95 L240.80,647.45 Z"/>
<path class="ar" d="M137.80,669.90 L145.00,668.15 L145.00,671.65 Z"/>
<path class="ar" d="M318.30,669.90 L311.10,671.65 L311.10,668.15 Z"/>
<text x="324" y="586.5" textLength="74.9" lengthAdjust="spacing" style="font-size:9px;" xml:space="preserve"><tspan class="p" style="font-size:11.7px;fill:#8d9894">∅  </tspan><tspan>44 mm</tspan><tspan class="p"> ( </tspan><tspan>1 3/4</tspan><tspan class="p"> )</tspan></text>
<text x="252.5" y="647.3" textLength="69.9" lengthAdjust="spacing" style="font-size:9px;" xml:space="preserve"><tspan>42 mm</tspan><tspan class="p"> ( </tspan><tspan>1 5/8</tspan><tspan class="p"> </tspan><tspan>"</tspan><tspan class="p"> )</tspan></text>
<text x="193.1" y="667.3" textLength="69.2" lengthAdjust="spacing" style="font-size:9px;" xml:space="preserve"><tspan>194 mm</tspan><tspan class="p"> ( </tspan><tspan>7 5/8</tspan><tspan class="p"> )</tspan></text>

</svg>
</body></html>
